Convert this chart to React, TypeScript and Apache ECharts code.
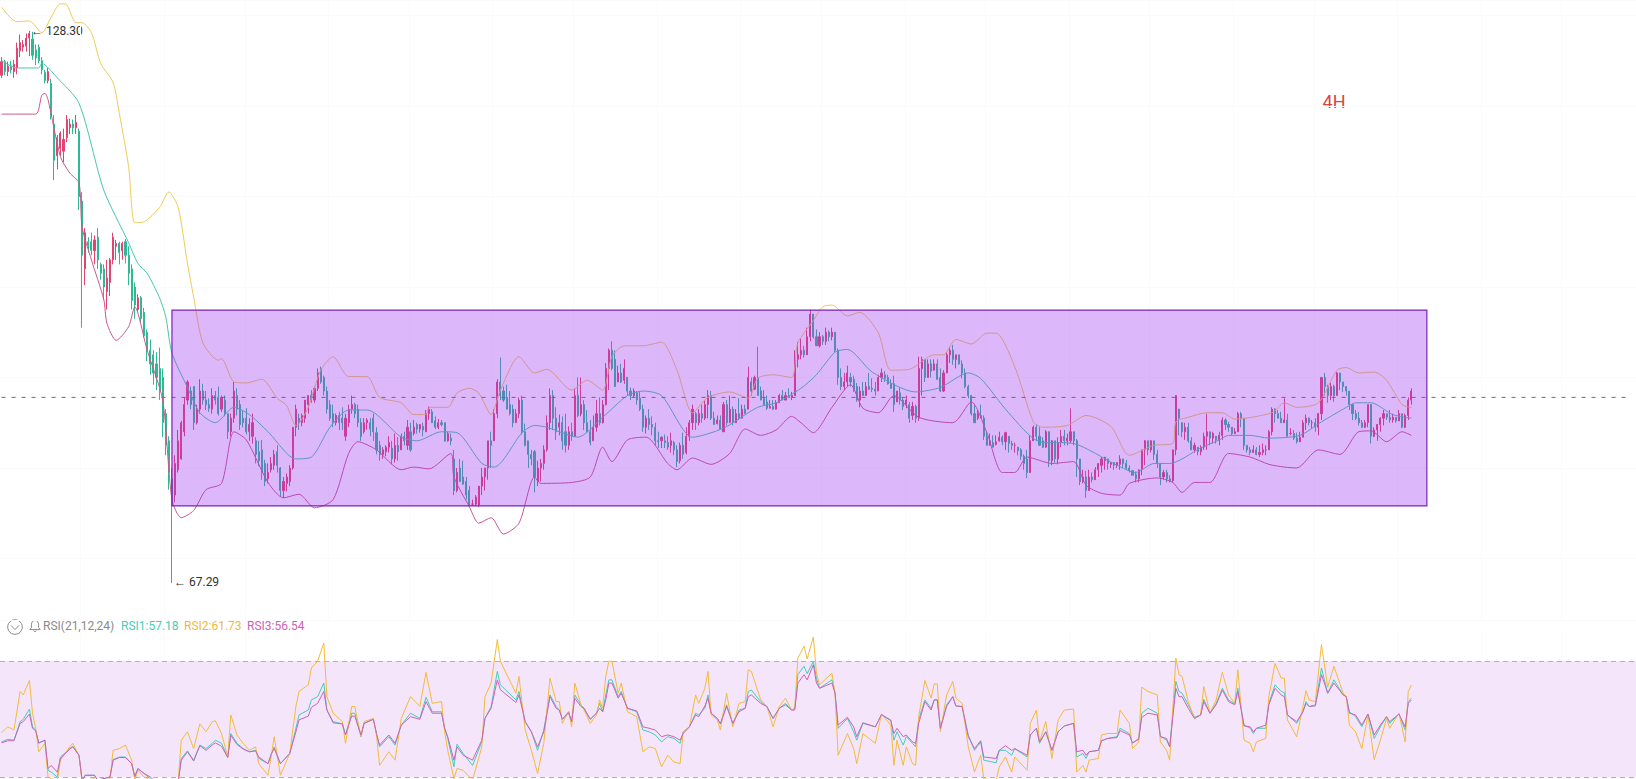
import React, { useEffect, useRef } from "react";
import * as echarts from "echarts";

// [open, close, low, high], in runs along the x axis
const candlesDecline = [
[123.4,124.9,123.1,125.4],[124.9,123.8,123.4,125.1],[123.8,124.4,123.3,124.9],[124.4,124,123.6,125],[123.8,124.6,123.1,125.1],[124.2,126.4,123.5,127],[126.1,127,125.4,127.9],[126.5,126.8,126,127.3],[126.6,127.5,126,128],[127.5,128,125.5,128.3],
[127.4,125.6,125.1,128.2],[126.2,125.3,124.5,126.8],[126.5,125,124.7,126.8],[125,124,123.5,125.4],[123.7,122.8,122.5,124],[122.8,123.8,122.5,124.2],[122.5,118.9,118.5,123],[118,114,111.8,119],[114.5,116.5,113,116.8],[115.3,117,114.5,117.2],
[115,116.3,113.8,117.5],[116.5,118.5,116,119],[117.6,118,116.9,118.6],[118,117.6,116.9,118.5],[117.6,118.2,116.9,119],[117.2,110,108.5,117.5],[109.5,103.5,95.5,110.5],[102,106,100.2,106.5],[105,104.6,103.8,105.5],[105,104,103.5,106],
[104,105.2,102.5,105.7],[105.5,103,102,106.5],[102.5,101.5,100.8,102.7],[102,100,98.6,102.5],[99.5,101,97.5,103],[100.5,103,99,103.2],[103,105.5,102.5,106],[104.5,104.8,103,105.2],[104.8,103.8,102.5,105],[104,104.8,103,105],
[105,103.5,102.6,105.3],[103.5,101.5,100.2,104.5],[102,98.5,97.5,102.5],[100,98,96.5,100.5],[97.5,98.8,97.3,99.2],[98.8,96.5,96,99],[97.2,94.6,94.4,97.7],[95,93,91.8,95.3],[93,91.5,90.3,94.2],[92.5,90.5,89.2,93],
[91.5,90,88.6,92.8],[91,88.5,87.5,93.3],[90,85,83.4,91],[86,82.5,81.4,86.5],[83,79.5,77.6,83.5],[78.8,76,67.29,80]];
const candlesRangeA = [
[77,80.5,76.2,81.4],[79.8,83,79.5,84.2],[81,85,80.9,85.2],[84,87,83.5,87.8],[87.5,89.5,87,89.7],[88.5,87,86.5,89],[89,85,84.2,89],[85,86.5,84.8,87],[86.5,88.5,86,89.8],[88.5,87.5,87,89.3],
[87.5,87,86.4,88.5],[87,86.6,86.2,87.7],[86.5,88,86,88.8],[88,87.5,87,88.5],[87.8,86,85.8,89],[86.5,87.8,86.2,88],[87.5,86,85.7,88],[86,84,83.2,86],[84,85.5,83.5,86],[85.5,88.5,85,89.5],
[88,86.5,85.8,88.8],[87,84.8,84.2,87.5],[85.5,85,84.5,86.3],[85.5,84,83.7,86.6],[84,84.8,83,85.5],[83.5,85,82.7,86],[83,81.5,80.5,83.4],[81.8,80.8,80.2,83],[82,79.5,78.7,83.1],[80.5,78.5,78,80.9],
[78.8,79.5,78.3,80.5],[79.8,80.5,79.5,81.2],[80.3,81.5,79.8,82],[81.8,80.3,79.5,82.5],[80,77.5,76.8,80.1],[77.5,78.5,76.7,79],[78.3,79,77.4,79.4],[78.5,80,78,80.3],[80,84.5,79.8,84.5],[84.5,86.5,83.5,87],
[85.5,85,84.2,86],[85,85.8,84.6,86],[85.5,87.5,85,87.5],[87,88,86,88],[88,87.5,87.2,88.6],[87.5,88.8,87.2,89],[88.8,90.5,88.5,91],[91,89.5,89.3,91.2],[90,88.5,88,90.2],[88.5,86.5,86,89],
[87,85.5,85.2,87.5],[86,85,84.5,87],[85,85.8,84.7,86],[85.8,85,84.2,86.2],[85.5,85,84.2,86.7],[83.5,85.5,83,86],[85,86.5,84.5,87],[86.5,87,86,88],[87,86,85.5,87.2],[86.5,85,84.5,87],
[85,83.5,83,85.5],[84,85,83.8,85.5],[85,85.3,84.2,85.5],[85,84.3,83.5,85.5],[85.5,84,83,86],[83.9,82,81.5,84.5],[82.5,81.5,80.8,83],[81.5,82,81,82.3],[81.8,82.3,81.3,82.5],[82.3,82.8,81.7,83.5],
[82.2,81,80.4,83],[81,82.5,80.6,83.8],[82.5,81.8,80.8,83.4]];
const candlesRangeB = [
[82,83.5,82,83.8],[83.5,83,82.5,84],[82.5,84.5,82,85.3],[84,82,81.8,85],[83.8,84.5,83.6,85.3],[84.8,84.3,83.8,85],[84.3,84.8,83.9,84.7],[84.6,84.2,83.5,85],[84,86,84,86.4],[86,86.5,85.3,86.8],
[86.2,85,85,86.5],[85.2,84.5,84.3,85.7],[84.5,85,84.3,85.4],[85,84.8,84.6,85.3],[85,83,82.9,85],[83,83.8,82.9,84],[83.3,83,82.5,83.8],[81,77.5,77,82],[77.5,79.5,77.3,80],[80,78.5,78.5,81],
[79,78.2,78.5,80.8],[78.5,77,76.5,79],[77.5,75.8,75.9,78],[76,76,75.8,76.5],[76,76.8,75.8,77],[75.9,78,75.7,78],[78,79,77,80],[79,80,77.5,80],[80,83,78.7,83],[83,82.5,80,84],
[83,86,83,86.5],[86,89.5,85.5,89.8],[89.5,88,87.5,92.2],[88.5,87.5,87.3,89],[87.8,86.5,86.5,89.2],[87,86,85.8,88.5],[86.5,85,84.5,87],[85,86,85,86.5],[86,87.5,85.5,87.8],[87.5,84,83.7,88],
[84,82.5,82.4,84.9],[83,81.5,80,83],[81.5,81,80.3,82],[81.8,79,77.3,82],[78.5,80,78,80.8],[80,80.5,78.5,81],[80.5,82,79.8,82.5],[82,85,81.8,85.8],[85,88,84.2,88.8],[88,85.5,84.2,88.6],
[85.5,84,83.1,86.7],[84.5,85,83.6,85.9],[85,83,82,85.7],[84,82.5,81.7,86],[82.5,84,82,84.6],[84,83.5,83,85],[83.5,88,83.8,88.8],[88,85.8,85.6,90],[86,87,85.7,90],[87,85,84.2,87.5],
[85,84,83.9,86.4],[84,82.8,82.5,85.3],[83,84.5,83,85.8],[84.5,86,84,87.5],[86,85,84.7,87.8],[85,87,84.9,87.5],[87,91,86.9,91.6],[91,93,88.6,93.2],[93,91,90.8,94],[92,89,89,93],
[89.5,90.5,89.7,91.3],[90.5,89.5,89.4,91.5],[89.7,91,89.3,92],[90,88.5,88,90],[88.5,88,87.5,88.9],[88,88.5,87.8,88.8],[88.3,87.5,87,88.5],[87.7,86.5,86.3,88.5]];
const candlesRangeC = [
[86.5,84.5,84,87],[84.5,85.5,83.8,85.8],[85.5,84.8,84.2,86.5],[84.8,84.5,83.6,85.7],[84.5,83,82.5,85],[83,82.9,82.2,84],[83,83.4,82.2,83.5],[83,82.8,82.2,83.7],[82.8,82.3,82,83.5],[82.5,83,81.7,83.9],
[82.8,82,81.4,83],[82,80.7,80.1,82.5],[80.8,82.5,80.5,82.8],[82.5,81.5,81,83.9],[81.7,83.5,81.5,84.5],[83.5,85,83,85.3],[85,86.5,84.2,87],[86,85,84.2,86.2],[85,86,84.7,86.5],[86,85.5,85,87],
[85.5,87,85.3,87.5],[87,88,85.5,88.6],[88,85.5,85.3,88.5],[85.5,84.8,84.8,86.2],[84.9,85.3,84.8,85.8],[85.3,84.3,84.4,85.8],[84,87,84.4,87.3],[87,85,84.7,87.5],[85,86.5,85,88],[86.5,85,84.7,86.8],
[85,86,85.5,86.5],[86,85.5,85.3,87.7],[85.5,86.5,85.8,87],[86.5,86,86,87],[86.5,90,86.7,91.2],[89.5,88.5,88,90],[88.7,90,88.6,90.2],[90,88,88,93.4],[88.5,87.5,87.7,89],[87.7,87,87.3,88.6],
[87.3,86.6,86.4,88],[86.6,86.8,86.6,87.5],[86.8,86.5,86.4,87.5],[86.5,87.2,86.7,87.5],[87.2,88,87.2,88.2],[88,87.5,87.5,88.6],[87.5,88,87.7,88.4],[88,87.8,87.7,88.8],[87.8,88,87.5,88.4],[88,92,88,93],
[92,92.5,91.1,93.9],[92.5,93,92,94.3],[93,92.5,92.2,93.5],[92.5,94.5,92.5,95.5],[94.5,97,94,97.5],[97,94.5,94.3,96.9],[94.5,93.5,93.6,95.3],[93.5,94.5,93.3,95],[94.5,94,93.6,94.7],[94,95,93.6,95.5],
[95,94.5,94,95.2],[94.5,95,94.1,95.5],[95,93,92.8,95],[93,90,89.2,93.2],[90,89,88.6,91],[89,89.5,88.6,90.5],[89.5,90.5,89,91.3],[90,89.5,89,90.5],[89.8,88.7,88.4,90.2],[89,87.5,87.3,89.4],
[87.5,88.5,86.7,89],[88.5,88,88,89.5],[88,89,88.3,89.5],[89,88.7,88.6,90.5],[88.8,88.7,88.4,89.9],[88.7,88.5,88,89.5],[88.5,90,88.5,90.3],[90,90.5,89.5,91],[90.3,89.9,89.5,90.7],[90,89.3,89.2,90.3],
[89.3,88.8,88.9,89.8]];
const candlesRangeD = [
[89.3,87,86.2,90.2],[87.3,88.5,87.5,88.5],[88.3,87.5,87,88.9],[87.5,86.8,86.4,87.8],[87,87.5,86.6,88],[87,85.5,85,87.3],[85.8,86.8,85.3,87.3],[86.8,85.5,85,87],[85.5,91,85.2,92.3],[91,92,88,92.3],
[92,90,89.5,92],[90,91.5,90,92],[91.5,90.7,90,92],[90.8,91.5,91,92],[91.5,89.8,89.7,92],[90,88.5,88.4,91],[88.5,90.5,88.4,90.8],[90.5,92.5,90.6,92.8],[92.5,93,91.6,93.4],[93,92,91.4,93.6],
[92,92.5,91,92.5],[92.5,91.5,91.4,92],[91.5,90.5,89.9,91.9],[90.5,89,88.8,91],[89,88,87.7,89.2],[88,86,85.8,88],[86,85,85,87],[85.5,86,85.3,86.4],[85.8,85.5,85.5,87],[85.5,83.5,83.1,85.8],
[83.5,82.5,82.5,84],[82.5,83,82.5,83.8],[82.8,82.3,82.5,83.6],[82.6,82.9,82.5,83.6],[83,83.4,82.9,84],[83.4,82.9,82.5,83.6],[82.9,83.9,82,84],[83.5,82.7,81.7,83.4],[82.7,82.5,82,83],[82.5,82.5,81.7,82.8],
[82.3,81.9,81.4,82.3],[82,81.3,80.9,82.2],[81.3,80.5,79.8,81.5],[81,79.5,78.9,82],[79.5,83,80.9,83.6],[83,84.5,83.4,84.7],[84.5,83.5,83,84.8],[83.5,82.5,82.5,84.5],[83,82.3,82.2,83.4],[82.3,84,82.2,84.2],
[84,80.8,80.1,83.4],[80.8,83,80.3,83.1],[83,81,80.6,83],[81,82.8,80.4,83.4],[82.8,83.5,82.3,84.2],[83.5,83,82.5,84.2],[83,83.3,82.5,83.8],[83,84,82.7,86.6],[84,83,82.5,84],[83,81,79,83.2],
[81,78.5,78.1,81],[78.5,79,78.3,79.8],[79,77.5,76.7,79.7],[77.5,79,78.4,79.8],[79,78.7,78.4,79.5],[78.7,79.8,78.7,80.1],[79.8,80.5,79,80.3],[80.3,81,79.5,81.2],[80.8,81.2,79.8,81],[81,80.5,79.8,80.9],
[80.4,80.6,80,80.5],[80.6,80.3,79.8,80.4],[80.3,80.6,80,80.5],[80.4,81,79.8,81.4],[81,80.5,80,81],[80.5,80,79.8,80.9],[80,79.7,79.5,80.3],[79.7,79.2,79.2,79.6],[79.3,78.8,78.4,79.6],[78.8,79.8,78.4,79.8]];
const candlesRangeE = [
[79.8,82,79.2,82],[82,83,80.3,83.1],[83,82,81.4,82.8],[82,83,81.7,83.1],[83,81.5,80.9,83],[81.5,80.5,80,82],[80.5,79,78.1,80.3],[79,79.5,78.7,79.8],[79.5,78.8,78.4,79.8],[78.8,78.6,78.4,79.2],
[78.6,82,78.4,81.8],[82,88,81.4,87.2],[86.5,85.5,83.6,85.8],[85,84,83.4,84.7],[84,84.5,83.1,85],[84.5,83,82.8,85],[83,82,82,83.4],[82,82.5,81.7,82.8],[82.3,81.8,81.4,82.3],[81.8,82.3,81.4,82.5],
[82.3,83.5,82,83.9],[83.5,84,82,86],[84,83.3,82.5,84],[83.3,83.8,82.7,84],[83.5,83.1,82.7,83.4],[83.1,83.6,82.5,84],[83.6,85.3,83.1,85.6],[85.3,84.8,84.2,85.5],[84.8,84.5,84,85.1],[84.5,83.8,83.6,84.4],
[83.8,84,83.9,84.4],[84,86,84.2,86.2],[86,85.5,84.5,86.2],[85.5,82.5,82,85],[82.5,82,81.7,82.5],[82,81.7,81.4,82.3],[81.7,82,81.7,82.5],[82,81.5,81.4,82.3],[81.5,81.7,81.2,82.5],[81.7,82,81.4,82.7],
[82,82,81.4,82.5],[82,84,82,84.2],[84,86.5,83.6,86.7],[86.5,86,85,86.6],[86,85.5,85.5,86.4],[85.5,85,85.3,86.2],[85,85.3,85,87.7],[85.3,83.5,83.9,86],[83.8,83.8,83.6,84.4],[83.8,83.3,83.1,84.2],
[83.3,82.9,82.7,83.9],[82.9,83.4,82.9,84],[83.4,85,83.4,85.3],[85,85.5,84.2,85.9],[85.5,85,84.7,85.6],[85,85,84.4,85.3],[85,84.5,84,85.5],[84.5,86,83.6,86.1],[86,90,85.3,90],[90,89,88,90.5],
[89,88,87.2,89.2],[88,89,87.5,89.4],[89,88,87.3,89.2],[88,90.5,88,90.6],[90.5,89.5,88.6,90.3],[89.5,89,88.4,89.5],[89,88.5,88,88.8],[88.5,87,86.4,88],[87,86,85.3,86.7],[86,85.5,85.3,86.4],
[85.5,85,84.7,86.2],[85,84.5,84.4,85.3],[84.5,85,84.4,85.3],[85,87,84.5,87],[87,83.5,82.7,85.3],[83.5,84.2,83.4,84.5],[84.2,84.8,83,84.8],[84.8,85.5,84,85.6],[85.5,86,84.7,86.4],[86,85.6,85.3,86],
[85.6,85.3,85,86.4],[85.3,85.6,85,86],[85.6,85.2,85,85.6],[85.2,86,85.3,86.4],[86,84.5,84.4,86],[84.5,85.8,84.4,86],[85.8,87.5,85.3,87.8],[87.5,88.5,87,88.8]];

// Bollinger bands: [candle number, price]
const bollUpper = [[0,130.9],[5,129.3],[9,129.4],[13,128.1],[16,129.8],[19,131.3],[21,131.2],[24,129.2],[26,129.2],[29,128.1],[32,124.7],[36,122.6],[38,119.2],[41,113.3],[43,107.1],[46,107.2],[51,108.8],[54,110.5],[57,108.8],[60,102.6],[62,98.9],[65,93.8],[70,91.9],[71,92.1],[75,89.5],[79,89.4],[84,89.8],[89,87.7],[92,86.9],[95,84.7],[96,84.9],[99,86.7],[103,90.8],[107,92.3],[112,90.1],[118,90.1],[122,87.8],[129,87.2],[133,85.9],[137,85.9],[138,86.7],[144,86.7],[147,88.3],[151,88.8],[154,88.3],[158,85.9],[161,88.6],[167,92.3],[172,90.5],[176,90.9],[184,88.6],[189,89.7],[194,88.6],[197,92.3],[201,93.5],[207,93.5],[213,93.9],[218,90.8],[223,86.1],[228,87.8],[235,88.4],[241,87.7],[244,89.9],[249,90.3],[255,90],[257,93.8],[262,96.3],[265,97.8],[268,98],[273,96.8],[277,97.2],[283,94.9],[287,90.8],[293,90.9],[301,92.5],[304,92.5],[308,94.2],[313,93.7],[318,94.9],[321,94.9],[327,91.2],[333,85.1],[336,84.5],[344,84.7],[350,85.8],[358,84.6],[364,81.4],[372,82.5],[378,82.7],[379,85.1],[383,85.6],[389,86.1],[394,86.1],[398,85.4],[410,86.1],[414,87.2],[418,86.7],[425,87.2],[431,90.8],[434,91.1],[438,90.5],[443,90.6],[447,89.7],[452,87],[455,86.7]];
const bollMiddle = [[0,125],[5,124.2],[12,124.2],[13,124.7],[18,123.1],[25,120.3],[33,110.7],[41,104.9],[44,102.6],[47,101.5],[51,98.8],[53,96.7],[55,92.7],[60,88.9],[64,86.1],[69,85],[75,86.7],[80,85.9],[86,84],[95,81],[100,81.2],[106,84.5],[112,86.4],[118,86.4],[129,83.4],[134,83],[142,84],[147,83.9],[155,80.5],[159,80.1],[168,83.9],[172,84.7],[176,84.5],[180,84],[186,83.4],[194,85.6],[202,88],[207,88.5],[213,88],[223,83.4],[233,84.4],[244,86.7],[250,87.2],[258,88.8],[263,90.3],[269,92.8],[273,93.1],[281,90.6],[295,88.4],[303,88.9],[312,90.5],[316,89.9],[325,86.1],[335,82.9],[346,82.7],[360,80.3],[366,79.5],[372,80.5],[377,80.5],[387,82.2],[393,83.1],[396,83.6],[403,83.6],[409,83.3],[419,83.6],[426,85.1],[434,86.7],[437,87.2],[442,87.2],[449,85.9],[455,85.5]];
const bollLower = [[0,119.1],[11,119.1],[13,121.2],[14,121.4],[15,120.7],[19,114.4],[22,112.6],[25,111.5],[26,106.6],[29,103],[33,98.6],[34,96],[37,94.1],[41,95.6],[43,97.8],[47,93],[52,87.5],[55,76.5],[58,74.5],[62,75.3],[66,77.6],[71,78.3],[75,84],[79,83.1],[86,78.4],[91,76.7],[96,77.1],[101,75.6],[107,76.5],[112,81.6],[115,82.9],[121,82],[129,79.8],[133,80.1],[138,79.9],[145,81.6],[146,79],[151,75.7],[154,73.9],[158,74.5],[162,72.7],[167,73.9],[172,79],[174,78.3],[184,78.4],[190,79],[194,82.3],[197,80.7],[202,83.1],[208,83.4],[215,80.5],[218,79.8],[223,81.1],[229,80.4],[235,81.6],[240,84.3],[245,83.6],[250,84.2],[255,85.7],[258,85],[262,83.9],[268,86.7],[274,89.2],[278,86.6],[283,86.1],[288,88],[296,85.6],[307,85],[313,87.3],[318,83.9],[323,79.5],[327,79.5],[331,81.2],[339,80.5],[346,80.7],[350,78.1],[355,77.2],[361,77],[364,78.3],[373,78.9],[378,78.4],[381,77.3],[385,78.4],[390,78.4],[396,81.6],[403,81.2],[409,80.4],[414,80.1],[418,80],[425,82],[432,81.5],[438,84],[442,84.1],[447,82.9],[452,84],[455,83.6]];

// RSI: the candle each reading belongs to, then the three readings
const rsiCandle = [0,2,4,6,7,9,10,11,12,14,15,16,18,19,22,23,25,26,27,30,31,35,36,38,40,42,43,44,46,48,50,57,58,60,62,64,66,68,69,71,73,74,76,78,80,82,83,86,87,88,90,93,95,96,99,100,102,104,105,107,110,111,113,114,116,117,120,121,122,125,127,129,132,135,137,139,142,143,144,146,147,149,152,155,156,158,160,161,166,167,169,171,173,175,
177,179,180,181,183,184,185,187,188,190,192,193,194,195,196,197,199,200,202,205,207,209,211,213,215,217,219,220,222,224,225,227,228,229,231,232,234,236,238,240,241,242,245,247,249,251,253,255,256,257,259,260,262,263,264,268,269,270,273,275,276,278,282,284,287,288,289,291,292,294,295,296,298,300,301,302,303,305,307,308,310,312,314,316,317,321,322,324,326,327,331,332,334,335,337,339,341,343,346,347,349,350,351,354,
355,357,360,361,364,365,367,368,370,373,374,376,377,379,380,381,383,385,387,388,390,392,394,396,398,399,401,403,404,405,408,409,411,413,414,415,418,420,421,422,424,426,428,430,433,434,435,437,439,441,443,445,447,448,451,453,454,455];
const rsi1 = [42.1,43,42.7,49.1,49.9,53.4,47.3,46.2,41.6,42.7,32.3,31.7,30,36.9,39.8,40.6,37.5,28.9,30.6,30.6,28.9,30,36,36.9,36.9,34.6,30,32.9,31.2,29.4,28,28.3,36.4,39,35.8,41,39.8,41.6,42.7,41.6,36.9,45,41.6,39.8,38.7,39.2,36.4,34.6,37.5,40.4,34.6,38.1,46.8,51.4,53.1,56.6,57.7,62.4,53.1,49.1,48.3,44.5,52,52,43.9,48.5,49.9,45,40.4,43.9,41,47.9,52,50.2,57.5,52.5,52.5,46.8,43.3,33.5,41.3,38.1,34,42.1,50.2,54.3,66.4,61.8,56.6,59.5,49.1,45.6,39.2,46.2,
58.3,54.3,53.1,49.9,52.5,49.1,58.3,54.9,53.7,49.9,52,55.4,52.5,58.3,63.5,63.5,57.7,59.5,53.7,52.5,46.2,45.6,44.5,42.1,43.9,43.3,41.6,45.6,47.3,52,51.4,53.7,58.3,52,50.2,48.5,54.9,48.5,53.1,53.7,59.5,60,56,54.3,50.2,53.7,55.4,53.1,53.7,65.3,68.2,65.6,69.9,64.1,60.6,63.5,58.9,46.8,50.2,45.6,42.7,48.5,47.3,51.4,49.7,42.7,45.6,41,43.9,41.6,40.4,49.7,56.6,53.7,56.6,56.6,46.8,54.9,57.7,54.5,54.3,44.5,39.2,42.1,35.8,34.9,39.2,39.2,37.5,39.8,36.9,44.5,46.8,41.6,45.6,39.2,45.6,47.6,48.5,36.9,38.1,36.4,38.7,39.2,
42.5,43.3,43.9,46.8,45,41.6,43.3,52,53.7,52,44.1,42.7,40.4,63,59.5,58.9,54.9,50.6,51.4,56.8,52,55.4,60.6,56.6,55.2,60.6,47.9,46.8,45,46.8,46.8,55.4,61.8,59.5,59.1,51.4,48.5,52.5,56,54.3,54.9,67.6,58.9,63.5,58.3,57.7,52.5,50.8,47.3,51.7,43.3,47.3,50.8,48.5,51.7,46.2,56,57.18];
const rsi2 = [45.3,47.3,46.2,59.5,58.3,63.3,52,46.8,38.7,41.6,30,29.4,28.9,35.8,40.4,41.6,37.5,28.3,28.9,29.4,28.3,29.4,39.2,39.8,41,35.8,28.9,32.3,30,28.9,27.5,28.3,42.7,45.6,39.8,48.3,45.6,49.1,49.4,45,36.9,51.4,44.4,41.6,39.2,40.4,34.6,30.6,36.9,43.9,30.6,38.1,54.3,59.5,61.8,67.6,69.9,76.2,57.7,52,49.1,41.6,54.3,54.3,43.9,49.1,50.2,44.5,34,38.7,35.8,50.2,57.7,54.3,66.1,55.4,56,45.6,39.2,29.4,32.9,32.3,28.9,40.4,57.7,62.4,77.4,69.9,58.9,64.7,46.2,39.2,31.2,41.6,
64.1,56,56,48.5,52.5,47.3,62.4,54.9,53.1,48.5,51.4,56.6,53.7,64.7,69.9,69.9,58.9,62.4,52.5,50.8,38.7,40.4,39.8,33.5,37.5,35.2,34.6,45.6,47.3,58.3,55.4,60.6,66.4,51.4,49.7,46.2,58.9,47.3,55.4,56,67,66.4,56.6,54.3,47.3,54.3,57.2,53.1,53.7,71,75.1,70.7,78.3,65.8,61.8,65.8,58.9,37.5,45,39.8,34.6,45,41.6,51.7,47.9,34,42.7,34,40.4,34.6,34,50.8,63.3,57.2,62.1,62.1,45.6,58.3,63,57.2,55.4,40.4,31.7,37.5,29.4,28.9,33.5,36.9,31.7,36.9,32.3,48.5,53.1,42.1,49.1,36.4,49.7,53.1,53.4,31.7,34,31.7,35.8,36.4,
44.5,45,45,53.1,48.5,39.8,42.1,61,59.5,58.3,42.1,39.2,35.8,71,65.3,64.7,56,50.2,51.4,61.2,52,56.6,66.1,58.3,55.4,67,42.7,41.6,38.7,42.1,43.3,57.7,69.1,64.1,64.1,49.7,43.9,54.3,59.8,56.6,56,75.7,61,68.2,58.9,57.7,47.9,45.6,39.8,51.4,36,42.7,50.2,46.8,52,42.1,59.5,61.73];
const rsi3 = [41.8,42.5,42.5,48.5,49.1,51.7,46.8,46,41.8,42.7,32.9,34,31.7,36.4,39.6,40.4,37.5,28.9,30.6,30.6,28.9,30,35.8,36.7,36.7,34.6,30.2,32.9,31.2,30,28,28.3,35.8,38.7,35.5,40.8,39.2,41,41.8,40.6,36.7,44.4,41.2,39.6,38.7,39,36.9,34.6,37.9,39.8,34.6,38.1,45.6,49.7,51,54,55.4,59.5,53.1,48.7,48.3,44.5,51,51,44.5,48.5,49.9,45,41,44.5,41.6,47.9,50.8,49.9,56,52,52,46.8,43.9,35.8,40.4,37.5,35.8,42.7,50.2,53.7,63.5,60.1,55.7,58.3,49.1,45.6,40.4,45.6,
57.7,53.7,53.1,49.9,52.2,49.1,57.2,54.3,53.7,49.9,52,53.7,52.5,56.6,62.4,62.4,57.2,58.9,53.7,52.8,47.3,46.8,46.2,43.9,44.5,43.9,42.7,45,47.3,51.4,50.8,54.5,57.2,52,50.2,48.3,54.3,48.5,52.5,53.7,57.7,58.3,55.4,54.3,50.2,53.7,54.9,53.1,53.1,62.4,65.3,63.5,68.7,62.4,60.6,62.4,58.9,47.9,50.6,47.3,43.9,48.7,47.3,51.6,49.4,45,46.8,43.9,44.5,42.1,41.6,48.5,56,53.1,56.6,56.6,46.8,54.3,57.7,54.5,54.3,43.9,39.8,42.5,36.9,36.4,39.2,40.8,39.2,39.8,37.5,44.5,46.8,42.1,45.6,39.2,45.6,47.6,48.5,38.7,39.2,37.5,38.7,39.2,
42.5,43.3,43.6,46,44.5,41.8,43,50.6,52,51.4,43.9,43.3,40.4,60.6,57.7,57.7,53.7,50.2,51.4,56,52,54.9,60,56,54.9,59.5,47.6,47.3,45.6,46.8,47.9,54.9,60.6,58.3,57.7,51.4,49.1,52.5,55.4,54.3,54.5,65.3,58.9,62.4,58.3,57.7,52,51.4,47.9,51.7,44.5,47.9,50.8,49.1,51.7,47.3,55.4,56.54];

const slotCount = 528;
const priceLine = 87.8;
const rangeBox = [[55, 97.45, 460, 75.8]];

const ohlc = [...candlesDecline, ...candlesRangeA, ...candlesRangeB, ...candlesRangeC, ...candlesRangeD, ...candlesRangeE];
const slots = Array.from({ length: slotCount }, (_, i) => String(i));
const pair = (vals: number[]) => vals.map((v, k) => [rsiCandle[k], v]);

echarts.graphic.registerShape(
  "bellIcon",
  echarts.graphic.extendPath(
    "M6 0.5 C3.4 0.5 2.4 2.6 2.4 4.8 L2.4 7.6 L0.8 9.6 L11.2 9.6 L9.6 7.6 L9.6 4.8 C9.6 2.6 8.6 0.5 6 0.5 Z M4.6 10.6 C5 11.8 7 11.8 7.4 10.6",
    {}
  ) as any
);

const FONT = "Roboto";

export default function App() {
  const ref = useRef<HTMLDivElement>(null);
  useEffect(() => {
    document.body.style.margin = "0";
    const chart = echarts.init(ref.current!, undefined, { renderer: "svg" });
    const slotWidth = 1636 / slotCount;
    const thinLine = (name: string, data: any[], color: string, idx: number, z = 4) => ({
      name,
      type: "line",
      data,
      xAxisIndex: idx,
      yAxisIndex: idx,
      showSymbol: false,
      symbol: "none",
      silent: true,
      z,
      smooth: 0.25,
      lineStyle: { color, width: 1 },
    });
    chart.setOption({
      animation: false,
      backgroundColor: "#ffffff",
      tooltip: { show: false },
      legend: { show: false },
      grid: [
        { left: 0, right: 0, top: 0, height: 620 },
        { left: 0, right: 0, top: 630, height: 149 },
      ],
      xAxis: [0, 1].map((g) => ({
        type: "category",
        gridIndex: g,
        data: slots,
        axisLine: { show: false },
        axisTick: { show: false },
        axisLabel: { show: false },
        splitLine: {
          show: true,
          interval: (i: number) => Math.floor(((i + 1) * slotWidth) / 82.3) !== Math.floor((i * slotWidth) / 82.3),
          lineStyle: { color: "#fbfbfb", width: 1 },
        },
      })),
      yAxis: [
        {
          type: "value",
          gridIndex: 0,
          min: 63.2,
          max: 131.71,
          axisLine: { show: false },
          axisTick: { show: false },
          axisLabel: { show: false },
          splitLine: { show: true, lineStyle: { color: "#fbfbfb", width: 1 } },
        },
        {
          type: "value",
          gridIndex: 1,
          min: 29.31,
          max: 80.7,
          axisLine: { show: false },
          axisTick: { show: false },
          axisLabel: { show: false },
          splitLine: { show: false },
        },
      ],
      series: [
        {
          name: "Price",
          type: "candlestick",
          data: ohlc,
          xAxisIndex: 0,
          yAxisIndex: 0,
          barWidth: 1.6,
          silent: true,
          z: 3,
          itemStyle: {
            color: "#e5436f",
            color0: "#2fb896",
            borderColor: "#e5436f",
            borderColor0: "#2fb896",
            borderWidth: 1,
          },
        },
        thinLine("BOLL upper", bollUpper, "#efcb57", 0),
        thinLine("BOLL middle", bollMiddle, "#44c7ae", 0),
        thinLine("BOLL lower", bollLower, "#cc5590", 0),
        {
          name: "Last price",
          type: "line",
          data: [[0, priceLine], [526, priceLine]],
          xAxisIndex: 0,
          yAxisIndex: 0,
          symbol: "none",
          silent: true,
          z: 4,
          lineStyle: { color: "#8a5f62", width: 1, type: [4, 6] },
        },
        {
          name: "Range",
          type: "custom",
          xAxisIndex: 0,
          yAxisIndex: 0,
          data: rangeBox,
          encode: { x: 0, y: 1 },
          z: 20,
          silent: true,
          clip: false,
          renderItem: (_p: any, api: any) => {
            const a = api.coord([api.value(0), api.value(1)]);
            const b = api.coord([api.value(2), api.value(3)]);
            return {
              type: "rect",
              shape: { x: a[0], y: a[1], width: b[0] - a[0], height: b[1] - a[1] },
              style: { fill: "rgba(155,52,243,0.35)", stroke: "#7a22b5", lineWidth: 1.2 },
            };
          },
        },
        {
          ...thinLine("RSI1", pair(rsi1), "#45cdb8", 1, 4),
          smooth: false,
          markArea: {
            silent: true,
            itemStyle: { color: "#f4e5fb" },
            data: [[{ yAxis: 70 }, { yAxis: 30 }]],
          },
          markLine: {
            silent: true,
            symbol: "none",
            label: { show: false },
            lineStyle: { color: "#b4aeb8", width: 1, type: [5, 4] },
            data: [{ yAxis: 70 }, { yAxis: 30 }],
          },
        },
        { ...thinLine("RSI2", pair(rsi2), "#f2bb3c", 1, 5), smooth: false },
        { ...thinLine("RSI3", pair(rsi3), "#cc62b8", 1, 6), smooth: false },
      ],
      graphic: [
        { type: "text", x: 1334, y: 101, style: { text: "4H", fill: "#d8453f", font: `18px ${FONT}`, align: "center", verticalAlign: "middle" } },
        { type: "text", x: 31, y: 30.5, style: { text: "← 128.30", fill: "#333333", font: `12px ${FONT}`, verticalAlign: "middle" } },
        { type: "text", x: 174, y: 582, style: { text: "← 67.29", fill: "#333333", font: `12px ${FONT}`, verticalAlign: "middle" } },
        { type: "circle", shape: { cx: 15, cy: 627, r: 7.3 }, style: { fill: "none", stroke: "#8a8a8a", lineWidth: 1 } },
        { type: "polyline", shape: { points: [[11, 625.5], [15, 629.5], [19, 625.5]] }, style: { fill: "none", stroke: "#8a8a8a", lineWidth: 1 } },
        { type: "bellIcon", x: 29, y: 620, style: { fill: "none", stroke: "#8a8a8a", lineWidth: 1 } },
        { type: "text", x: 43, y: 626, style: { text: "RSI(21,12,24)", fill: "#8a8a8a", font: `12px ${FONT}`, verticalAlign: "middle" } },
        { type: "text", x: 121, y: 626, style: { text: "RSI1:57.18", fill: "#45cdb8", font: `12px ${FONT}`, verticalAlign: "middle" } },
        { type: "text", x: 184, y: 626, style: { text: "RSI2:61.73", fill: "#f0b93a", font: `12px ${FONT}`, verticalAlign: "middle" } },
        { type: "text", x: 247, y: 626, style: { text: "RSI3:56.54", fill: "#cc62b8", font: `12px ${FONT}`, verticalAlign: "middle" } },
      ],
    });
    return () => chart.dispose();
  }, []);
  return <div ref={ref} style={{ position: "fixed", left: 0, top: 0, width: 1636, height: 779 }} />;
}
